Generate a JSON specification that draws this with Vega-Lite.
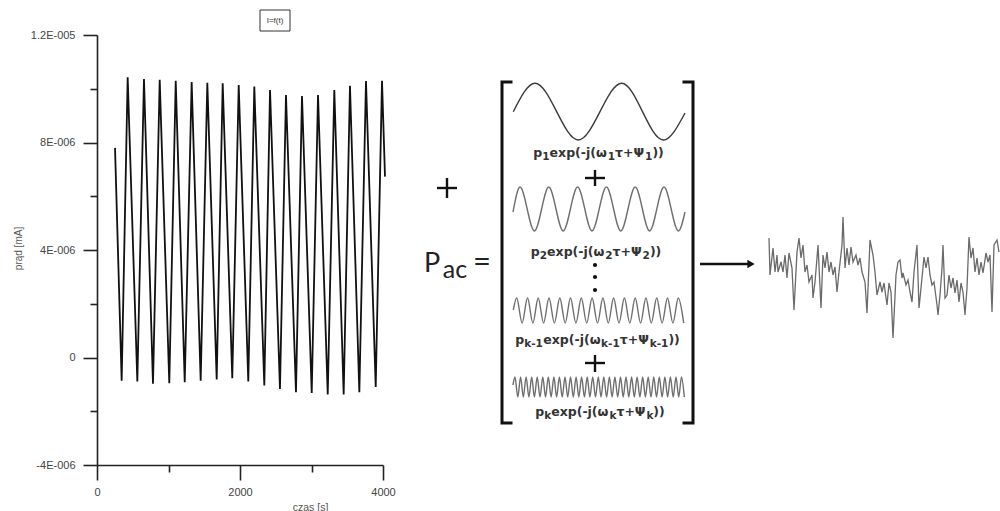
{
  "$schema": "https://vega.github.io/schema/vega-lite/v6.json",
  "width": 1000,
  "height": 511,
  "autosize": "none",
  "padding": 0,
  "background": "white",
  "config": {"view": {"stroke": null}},
  "datasets": {
    "zig": [
      {"t":252,"i":7.8e-6},{"t":345,"i":-8.6e-7},{"t":429,"i":1.043e-5},{"t":564,"i":-8.9e-7},
      {"t":657,"i":1.036e-5},{"t":783,"i":-9.8e-7},{"t":877,"i":1.033e-5},{"t":1011,"i":-9.6e-7},
      {"t":1101,"i":1.030e-5},{"t":1227,"i":-9.2e-7},{"t":1324,"i":1.025e-5},{"t":1450,"i":-8.6e-7},
      {"t":1543,"i":1.0225e-5},{"t":1674,"i":-8.2e-7},{"t":1758,"i":1.020e-5},{"t":1892,"i":-7.7e-7},
      {"t":1982,"i":1.014e-5},{"t":2116,"i":-8.9e-7},{"t":2200,"i":1.008e-5},{"t":2340,"i":-1.04e-6},
      {"t":2420,"i":9.95e-6},{"t":2559,"i":-1.17e-6},{"t":2643,"i":9.77e-6},{"t":2783,"i":-1.29e-6},
      {"t":2867,"i":9.73e-6},{"t":3003,"i":-1.32e-6},{"t":3091,"i":9.77e-6},{"t":3227,"i":-1.38e-6},
      {"t":3319,"i":9.95e-6},{"t":3450,"i":-1.38e-6},{"t":3538,"i":1.0115e-5},{"t":3669,"i":-1.29e-6},
      {"t":3762,"i":1.029e-5},{"t":3898,"i":-1.1e-6},{"t":3986,"i":1.030e-5},{"t":4028,"i":6.73e-6}
    ],
    "waves": [
      {"w":1,"u":513.3,"v":111.7},{"w":1,"u":535,"v":83.3},{"w":1,"u":578.3,"v":140},{"w":1,"u":621.7,"v":83.3},{"w":1,"u":663.3,"v":140},{"w":1,"u":685,"v":113},
      {"w":2,"u":513,"v":212},{"w":2,"u":520,"v":187},{"w":2,"u":534.4,"v":231},{"w":2,"u":548.8,"v":187},{"w":2,"u":563.2,"v":231},{"w":2,"u":577.6,"v":187},{"w":2,"u":592,"v":231},{"w":2,"u":606.4,"v":187},{"w":2,"u":620.8,"v":231},{"w":2,"u":635.2,"v":187},{"w":2,"u":649.6,"v":231},{"w":2,"u":664,"v":187},{"w":2,"u":678.4,"v":231},{"w":2,"u":685,"v":212},
      {"w":3,"u":513.3,"v":310},
      {"w":3,"u":516.7,"v":298},{"w":3,"u":522.1,"v":323},{"w":3,"u":527.5,"v":298},{"w":3,"u":532.9,"v":323},
      {"w":3,"u":538.2,"v":298},{"w":3,"u":543.6,"v":323},{"w":3,"u":549.0,"v":298},{"w":3,"u":554.4,"v":323},
      {"w":3,"u":559.8,"v":298},{"w":3,"u":565.2,"v":323},{"w":3,"u":570.5,"v":298},{"w":3,"u":575.9,"v":323},
      {"w":3,"u":581.3,"v":298},{"w":3,"u":586.7,"v":323},{"w":3,"u":592.1,"v":298},{"w":3,"u":597.5,"v":323},
      {"w":3,"u":602.9,"v":298},{"w":3,"u":608.3,"v":323},{"w":3,"u":613.6,"v":298},{"w":3,"u":619.0,"v":323},
      {"w":3,"u":624.4,"v":298},{"w":3,"u":629.8,"v":323},{"w":3,"u":635.2,"v":298},{"w":3,"u":640.6,"v":323},
      {"w":3,"u":645.9,"v":298},{"w":3,"u":651.3,"v":323},{"w":3,"u":656.7,"v":298},{"w":3,"u":662.1,"v":323},
      {"w":3,"u":667.5,"v":298},{"w":3,"u":672.9,"v":323},{"w":3,"u":678.3,"v":298},{"w":3,"u":683.7,"v":323},
      {"w":4,"u":513,"v":385},
      {"w":4,"u":515.0,"v":377},{"w":4,"u":517.8,"v":397},{"w":4,"u":520.6,"v":377},{"w":4,"u":523.3,"v":397},
      {"w":4,"u":526.1,"v":377},{"w":4,"u":528.9,"v":397},{"w":4,"u":531.7,"v":377},{"w":4,"u":534.4,"v":397},
      {"w":4,"u":537.2,"v":377},{"w":4,"u":540.0,"v":397},{"w":4,"u":542.8,"v":377},{"w":4,"u":545.5,"v":397},
      {"w":4,"u":548.3,"v":377},{"w":4,"u":551.1,"v":397},{"w":4,"u":553.9,"v":377},{"w":4,"u":556.6,"v":397},
      {"w":4,"u":559.4,"v":377},{"w":4,"u":562.2,"v":397},{"w":4,"u":565.0,"v":377},{"w":4,"u":567.7,"v":397},
      {"w":4,"u":570.5,"v":377},{"w":4,"u":573.3,"v":397},{"w":4,"u":576.1,"v":377},{"w":4,"u":578.8,"v":397},
      {"w":4,"u":581.6,"v":377},{"w":4,"u":584.4,"v":397},{"w":4,"u":587.2,"v":377},{"w":4,"u":589.9,"v":397},
      {"w":4,"u":592.7,"v":377},{"w":4,"u":595.5,"v":397},{"w":4,"u":598.3,"v":377},{"w":4,"u":601.0,"v":397},
      {"w":4,"u":603.8,"v":377},{"w":4,"u":606.6,"v":397},{"w":4,"u":609.4,"v":377},{"w":4,"u":612.1,"v":397},
      {"w":4,"u":614.9,"v":377},{"w":4,"u":617.7,"v":397},{"w":4,"u":620.5,"v":377},{"w":4,"u":623.2,"v":397},
      {"w":4,"u":626.0,"v":377},{"w":4,"u":628.8,"v":397},{"w":4,"u":631.6,"v":377},{"w":4,"u":634.3,"v":397},
      {"w":4,"u":637.1,"v":377},{"w":4,"u":639.9,"v":397},{"w":4,"u":642.7,"v":377},{"w":4,"u":645.4,"v":397},
      {"w":4,"u":648.2,"v":377},{"w":4,"u":651.0,"v":397},{"w":4,"u":653.8,"v":377},{"w":4,"u":656.5,"v":397},
      {"w":4,"u":659.3,"v":377},{"w":4,"u":662.1,"v":397},{"w":4,"u":664.9,"v":377},{"w":4,"u":667.6,"v":397},
      {"w":4,"u":670.4,"v":377},{"w":4,"u":673.2,"v":397},{"w":4,"u":676.0,"v":377},{"w":4,"u":678.7,"v":397},
      {"w":4,"u":681.5,"v":377},{"w":4,"u":684.3,"v":397}
    ],
    "noise": [
      {"u":769,"v":238},{"u":770,"v":275},{"u":773,"v":248},{"u":775,"v":272},{"u":777,"v":255},{"u":778,"v":272},
      {"u":781,"v":262},{"u":783,"v":272},{"u":785,"v":255},{"u":787,"v":278},{"u":789,"v":253},{"u":792,"v":268},
      {"u":794,"v":310},{"u":797,"v":252},{"u":799,"v":238},{"u":801,"v":258},{"u":803,"v":245},{"u":805,"v":272},
      {"u":807,"v":265},{"u":809,"v":282},{"u":812,"v":275},{"u":813,"v":298},{"u":815,"v":282},{"u":817,"v":258},
      {"u":818,"v":245},{"u":821,"v":308},{"u":823,"v":255},{"u":825,"v":268},{"u":827,"v":252},{"u":829,"v":272},
      {"u":831,"v":262},{"u":833,"v":275},{"u":835,"v":267},{"u":837,"v":292},{"u":839,"v":272},{"u":842,"v":245},
      {"u":843,"v":217},{"u":845,"v":268},{"u":847,"v":248},{"u":849,"v":265},{"u":851,"v":247},{"u":853,"v":262},
      {"u":856,"v":255},{"u":858,"v":265},{"u":860,"v":258},{"u":862,"v":272},{"u":865,"v":282},{"u":867,"v":313},
      {"u":870,"v":240},{"u":873,"v":255},{"u":875,"v":272},{"u":877,"v":295},{"u":880,"v":282},{"u":882,"v":292},
      {"u":884,"v":283},{"u":887,"v":305},{"u":889,"v":283},{"u":891,"v":292},{"u":893,"v":338},{"u":896,"v":275},
      {"u":898,"v":262},{"u":900,"v":260},{"u":902,"v":278},{"u":903,"v":273},{"u":906,"v":285},{"u":908,"v":280},
      {"u":910,"v":292},{"u":912,"v":302},{"u":914,"v":272},{"u":917,"v":245},{"u":919,"v":308},{"u":922,"v":278},
      {"u":924,"v":257},{"u":926,"v":268},{"u":928,"v":257},{"u":930,"v":275},{"u":932,"v":285},{"u":934,"v":282},
      {"u":937,"v":305},{"u":938,"v":315},{"u":940,"v":295},{"u":942,"v":268},{"u":943,"v":245},{"u":945,"v":298},
      {"u":947,"v":295},{"u":949,"v":275},{"u":951,"v":288},{"u":953,"v":278},{"u":955,"v":293},{"u":957,"v":280},
      {"u":959,"v":302},{"u":961,"v":283},{"u":963,"v":292},{"u":965,"v":315},{"u":967,"v":288},{"u":969,"v":237},
      {"u":971,"v":258},{"u":973,"v":248},{"u":975,"v":272},{"u":977,"v":258},{"u":979,"v":275},{"u":981,"v":262},
      {"u":983,"v":273},{"u":986,"v":253},{"u":988,"v":262},{"u":990,"v":255},{"u":992,"v":312},{"u":994,"v":245},
      {"u":997,"v":240},{"u":999,"v":252}
    ],
    "bracket": [
      {"g":"L","k":0,"u":511,"v":82},{"g":"L","k":1,"u":502,"v":82},{"g":"L","k":2,"u":502,"v":423},{"g":"L","k":3,"u":511,"v":423},
      {"g":"R","k":0,"u":684,"v":82},{"g":"R","k":1,"u":693,"v":82},{"g":"R","k":2,"u":693,"v":423},{"g":"R","k":3,"u":684,"v":423}
    ],
    "segments": [
      {"u":437,"v":188,"u2":457,"v2":188},{"u":447,"v":178,"u2":447,"v2":198},
      {"u":585,"v":178,"u2":605,"v2":178},{"u":595,"v":170,"u2":595,"v2":186},
      {"u":585,"v":363,"u2":605,"v2":363},{"u":595,"v":355,"u2":595,"v2":372},
      {"u":700,"v":264,"u2":749,"v2":264}
    ],
    "fmain": [
      {"u":533.3,"v":157,"txt":"p"},{"u":549.6,"v":157,"txt":"exp(-j(ω"},{"u":615.1,"v":157,"txt":"τ+Ψ"},{"u":652.4,"v":157,"txt":"))"},
      {"u":530.8,"v":256,"txt":"p"},{"u":547.1,"v":256,"txt":"exp(-j(ω"},{"u":612.6,"v":256,"txt":"τ+Ψ"},{"u":649.9,"v":256,"txt":"))"},
      {"u":515.3,"v":344,"txt":"p"},{"u":543.3,"v":344,"txt":"exp(-j(ω"},{"u":619.7,"v":344,"txt":"τ+Ψ"},{"u":668.4,"v":344,"txt":"))"},
      {"u":535.3,"v":416,"txt":"p"},{"u":551.2,"v":416,"txt":"exp(-j(ω"},{"u":616.4,"v":416,"txt":"τ+Ψ"},{"u":653.3,"v":416,"txt":"))"}
    ],
    "fsub": [
      {"u":542.3,"v":159.5,"txt":"1"},{"u":607.8,"v":159.5,"txt":"1"},{"u":645.1,"v":159.5,"txt":"1"},
      {"u":539.8,"v":258.5,"txt":"2"},{"u":605.3,"v":258.5,"txt":"2"},{"u":642.6,"v":258.5,"txt":"2"},
      {"u":524.2,"v":346.5,"txt":"k-1"},{"u":601.1,"v":346.5,"txt":"k-1"},{"u":649.7,"v":346.5,"txt":"k-1"},
      {"u":544.2,"v":418.5,"txt":"k"},{"u":609.4,"v":418.5,"txt":"k"},{"u":646.4,"v":418.5,"txt":"k"}
    ],
    "dots": [{"u":595,"v":265},{"u":595,"v":277},{"u":595,"v":290}],
    "arrowhead": [{"u":751,"v":264}],
    "titlebox": [{"u":260,"v":10,"u2":290,"v2":31,"txt":"I=f(t)","uc":275,"vc":20.5}],
    "pac": [{"u":432,"v":272,"txt":"P"}],
    "pacsub": [{"u":455,"v":278,"txt":"ac"}],
    "eq": [{"u":482,"v":272,"txt":"="}]
  },
  "layer": [
    {
      "data": {"name": "zig"},
      "mark": {"type": "line", "color": "#111", "strokeWidth": 1.8},
      "encoding": {
        "x": {
          "field": "t", "type": "quantitative",
          "scale": {"domain": [0, 4000], "range": [97, 383], "nice": false, "zero": false},
          "axis": {
            "orient": "bottom", "offset": -46,
            "values": [0, 1000, 2000, 3000, 4000],
            "labelExpr": "datum.value % 2000 == 0 ? '' + datum.value : ''",
            "tickSize": {"condition": {"test": "datum.value % 2000 == 0", "value": 15}, "value": 7},
            "grid": false,
            "domainColor": "#222", "domainWidth": 1.6, "tickColor": "#222", "tickWidth": 1.6,
            "labelFont": "Liberation Sans", "labelFontSize": 11, "labelColor": "#444",
            "labelPadding": 6, "labelFlush": false, "labelOverlap": false,
            "title": "czas [s]", "titleFont": "Liberation Sans", "titleFontSize": 10.5,
            "titleFontWeight": "normal", "titleColor": "#555",
            "titleX": 310, "titleY": 42, "titleBaseline": "middle", "titleAlign": "center"
          }
        },
        "y": {
          "field": "i", "type": "quantitative",
          "scale": {"domain": [-4e-6, 1.2e-5], "range": [465, 35], "nice": false, "zero": false},
          "axis": {
            "orient": "left", "offset": -97,
            "values": [-4e-6, -2e-6, 0, 2e-6, 4e-6, 6e-6, 8e-6, 1e-5, 1.2e-5],
            "labelExpr": "abs(datum.value) < 1e-9 ? '0' : abs(datum.value/4e-6 - round(datum.value/4e-6)) < 0.01 ? (round(datum.value/4e-6) == 3 ? '1.2E-005' : round(datum.value/4e-6) == 2 ? '8E-006' : round(datum.value/4e-6) == 1 ? '4E-006' : '-4E-006') : ''",
            "tickSize": {"condition": {"test": "abs(datum.value/4e-6 - round(datum.value/4e-6)) < 0.01", "value": 14}, "value": 7},
            "grid": false,
            "domainColor": "#222", "domainWidth": 1.6, "tickColor": "#222", "tickWidth": 1.6,
            "labelFont": "Liberation Sans", "labelFontSize": 11, "labelColor": "#444",
            "labelPadding": 8, "labelOverlap": false, "labelFlush": false,
            "title": "prąd [mA]", "titleFont": "Liberation Sans", "titleFontSize": 10,
            "titleFontWeight": "normal", "titleColor": "#555",
            "titleX": -79, "titleY": 248, "titleAngle": -90, "titleBaseline": "middle", "titleAlign": "center"
          }
        }
      }
    },
    {
      "encoding": {
        "x": {"field": "u", "type": "quantitative", "axis": null,
              "scale": {"domain": [0, 1000], "range": [0, 1000], "nice": false, "zero": false}},
        "y": {"field": "v", "type": "quantitative", "axis": null,
              "scale": {"domain": [0, 511], "range": [0, 511], "nice": false, "zero": false}}
      },
      "layer": [
        {
          "data": {"name": "titlebox"},
          "mark": {"type": "rect", "fill": null, "stroke": "#333", "strokeWidth": 1},
          "encoding": {"x2": {"field": "u2"}, "y2": {"field": "v2"}}
        },
        {
          "data": {"name": "titlebox"},
          "mark": {"type": "text", "font": "Liberation Sans", "fontSize": 8, "color": "#333", "align": "center", "baseline": "middle"},
          "encoding": {"x": {"field": "uc", "type": "quantitative"}, "y": {"field": "vc", "type": "quantitative"}, "text": {"field": "txt"}}
        },
        {
          "data": {"name": "waves"},
          "mark": {"type": "line", "interpolate": "monotone", "strokeWidth": 1.4},
          "encoding": {
            "detail": {"field": "w", "type": "nominal"},
            "color": {"field": "w", "type": "nominal", "legend": null,
                      "scale": {"domain": [1, 2, 3, 4], "range": ["#3a3a3a", "#6e6e6e", "#6e6e6e", "#6e6e6e"]}}
          }
        },
        {
          "data": {"name": "noise"},
          "mark": {"type": "line", "color": "#6a6a6a", "strokeWidth": 1.3},
          "encoding": {}
        },
        {
          "data": {"name": "bracket"},
          "mark": {"type": "line", "color": "#111", "strokeWidth": 3, "strokeCap": "square", "strokeJoin": "miter"},
          "encoding": {"detail": {"field": "g", "type": "nominal"}, "order": {"field": "k", "type": "quantitative"}}
        },
        {
          "data": {"name": "segments"},
          "mark": {"type": "rule", "color": "#111", "strokeWidth": 2.4},
          "encoding": {"x2": {"field": "u2"}, "y2": {"field": "v2"}}
        },
        {
          "data": {"name": "arrowhead"},
          "mark": {"type": "point", "shape": "triangle-right", "filled": true, "color": "#111", "size": 70, "opacity": 1},
          "encoding": {}
        },
        {
          "data": {"name": "dots"},
          "mark": {"type": "point", "shape": "circle", "filled": true, "color": "#111", "size": 18, "opacity": 1},
          "encoding": {}
        },
        {
          "data": {"name": "fmain"},
          "mark": {"type": "text", "font": "DejaVu Sans", "fontSize": 12.5, "fontWeight": "bold", "color": "#333", "align": "left", "baseline": "alphabetic"},
          "encoding": {"text": {"field": "txt"}}
        },
        {
          "data": {"name": "fsub"},
          "mark": {"type": "text", "font": "DejaVu Sans", "fontSize": 10.5, "fontWeight": "bold", "color": "#333", "align": "left", "baseline": "alphabetic"},
          "encoding": {"text": {"field": "txt"}}
        },
        {
          "data": {"name": "pac"},
          "mark": {"type": "text", "font": "Lato", "fontSize": 27, "color": "#222", "align": "center", "baseline": "alphabetic"},
          "encoding": {"text": {"field": "txt"}}
        },
        {
          "data": {"name": "pacsub"},
          "mark": {"type": "text", "font": "Lato", "fontSize": 25, "color": "#222", "align": "center", "baseline": "alphabetic"},
          "encoding": {"text": {"field": "txt"}}
        },
        {
          "data": {"name": "eq"},
          "mark": {"type": "text", "font": "Lato", "fontSize": 31, "color": "#222", "align": "center", "baseline": "alphabetic"},
          "encoding": {"text": {"field": "txt"}}
        }
      ]
    }
  ],
  "resolve": {"scale": {"x": "independent", "y": "independent", "color": "independent"}}
}
